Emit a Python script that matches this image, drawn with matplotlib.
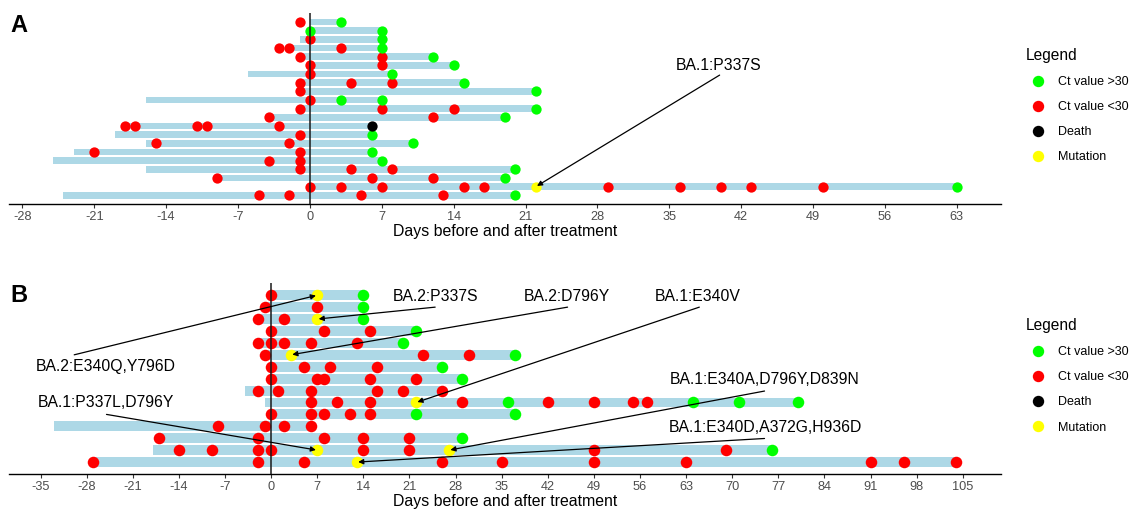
import matplotlib.pyplot as plt
from matplotlib.lines import Line2D

plt.rcParams['font.family'] = ['Liberation Sans', 'DejaVu Sans']
plt.rcParams['axes.unicode_minus'] = False

GREEN = '#00ff00'
RED = '#ff0000'
YELLOW = '#ffff00'
BAR = '#add8e6'

# ---- panel A, one entry per patient row, top to bottom ----
a_bar_start = [0, 0, -1, -2, -1, 0, -6, -1, -1, -16, -1, -4, -18, -19, -16, -23, -25, -16, -9, 0, -24]
a_bar_end = [3, 7, 7, 7, 12, 14, 8, 15, 22, 7, 22, 19, 6, 6, 10, 6, 7, 20, 19, 63, 20]
a_high = [[3], [0, 7], [7], [7], [12], [14], [8], [15], [22], [3, 7], [22], [19], [],
          [6], [10], [6], [7], [20], [19], [63], [20]]
a_low = [[-1], [], [0], [-3, -2, 3], [-1, 7], [0, 7], [0], [-1, 4, 8], [-1], [0],
         [-1, 7, 14], [-4, 12], [-18, -17, -11, -10, -3], [-1], [-15, -2], [-21, -1],
         [-4, -1], [-1, 4, 8], [-9, 6, 12], [0, 3, 7, 15, 17, 29, 36, 40, 43, 50],
         [-5, -2, 5, 13]]
a_death = [(13, 6)]                      # (row, day)
a_mut = [(20, 22)]
a_mut_labels = ['BA.1:P337S']
a_ticks = list(range(-28, 64, 7))

# ---- panel B ----
b_bar_start = [0, -1, -2, 0, -2, -1, 0, 0, -4, -1, 0, -33, -17, -18, -27]
b_bar_end = [14, 14, 14, 22, 20, 37, 26, 29, 26, 80, 37, 6, 29, 76, 104]
b_high = [[14], [14], [14], [22], [20], [37], [26], [29], [], [36, 64, 71, 80],
          [22, 37], [], [29], [76], []]
b_low = [[0], [-1, 7], [-2, 2], [0, 8, 15], [-2, 0, 2, 6, 13], [-1, 23, 30],
         [0, 5, 9, 16], [0, 7, 8, 15, 22], [-2, 1, 6, 16, 20, 26],
         [6, 10, 15, 29, 42, 49, 55, 57], [0, 6, 8, 12, 15], [-8, -1, 2, 6],
         [-17, -2, 8, 14, 21], [-14, -9, -2, 0, 14, 21, 49, 69],
         [-27, -2, 5, 26, 35, 49, 63, 91, 96, 104]]
b_death = []
b_mut = [(1, 7), (3, 7), (6, 3), (10, 22), (14, 7), (14, 27), (15, 13)]
b_mut_labels = ['BA.2:E340Q,Y796D', 'BA.2:P337S', 'BA.2:D796Y', 'BA.1:E340V',
                'BA.1:P337L,D796Y', 'BA.1:E340A,D796Y,D839N', 'BA.1:E340D,A372G,H936D']
b_ticks = list(range(-35, 106, 7))

# label placement: (text x, text y, segment start x, segment start y)
a_label_pos = [(39.8, 15.95, 39.9, 14.87)]
b_label_pos = [(-25.1, 9.0, -29.9, 10.0), (25.0, 14.87, 24.9, 14.0),
               (44.9, 14.87, 45.0, 14.0), (64.8, 14.87, 65.0, 14.0),
               (-25.1, 6.0, -25.0, 5.0), (74.9, 7.89, 74.9, 6.96),
               (75.0, 3.9, 74.9, 2.98)]


def flat(rows, n):
    xs, ys = [], []
    for i, days in enumerate(rows):
        for d in days:
            xs.append(d)
            ys.append(n - i)
    return xs, ys


def panel(ax, start, end, high, low, death, mut, labels, label_pos, ticks,
          xlim, bar_h, ms):
    n = len(start)
    ypos = [n - i for i in range(n)]
    ax.barh(ypos, [e - s for s, e in zip(start, end)], left=start, height=bar_h,
            color=BAR, zorder=1)
    x, y = flat(low, n)
    ax.scatter(x, y, s=ms, color=RED, linewidths=0, zorder=3)
    x, y = flat(high, n)
    ax.scatter(x, y, s=ms, color=GREEN, linewidths=0, zorder=3)
    if death:
        ax.scatter([d for r, d in death], [n + 1 - r for r, d in death], s=ms,
                   color='black', linewidths=0, zorder=3)
    ax.scatter([d for r, d in mut], [n + 1 - r for r, d in mut], s=ms,
               color=YELLOW, linewidths=0, zorder=3)
    ax.axvline(0, color='#1a1a1a', lw=1.1, zorder=4)
    for (r, d), lab, (tx, ty, sx, sy) in zip(mut, labels, label_pos):
        ax.text(tx, ty, lab, ha='center', va='center', fontsize=11.3, zorder=6)
        ax.annotate('', xy=(d, n + 1 - r), xytext=(sx, sy),
                    arrowprops=dict(arrowstyle='-|>,head_length=0.3,head_width=0.15',
                                    color='black', lw=0.9, shrinkA=0, shrinkB=1),
                    zorder=6)
    ax.set_xlim(*xlim)
    ax.set_ylim(0, n + 1)
    ax.set_xticks(ticks)
    ax.set_yticks([])
    for side in ['top', 'right', 'left']:
        ax.spines[side].set_visible(False)
    ax.spines['bottom'].set_linewidth(1.0)
    ax.tick_params(axis='x', length=3, width=0.8, color='#333333', labelsize=9.2,
                   labelcolor='#4d4d4d', pad=2)
    ax.set_xlabel('Days before and after treatment', fontsize=11.4, labelpad=1)

    handles = [Line2D([], [], ls='', marker='o', ms=8.2, mec='none', mfc=c)
               for c in [GREEN, RED, 'black', YELLOW]]
    return handles


W, H = 1133, 511
fig = plt.figure(figsize=(W / 100, H / 100), dpi=100)
axA = fig.add_axes([9 / W, (H - 204) / H, 992 / W, 190.7 / H])
axB = fig.add_axes([9 / W, (H - 474) / H, 992 / W, 190.7 / H])

hA = panel(axA, a_bar_start, a_bar_end, a_high, a_low, a_death, a_mut, a_mut_labels,
           a_label_pos, a_ticks, (-29.3, 67.3), 0.78, 55)
hB = panel(axB, b_bar_start, b_bar_end, b_high, b_low, b_death, b_mut, b_mut_labels,
           b_label_pos, b_ticks, (-39.8, 110.8), 0.83, 69)

legend_labels = ['Ct value >30', 'Ct value <30', 'Death', 'Mutation']
for ax, h, top in [(axA, hA, 41), (axB, hB, 311)]:
    leg = ax.legend(h, legend_labels, loc='upper left', bbox_to_anchor=(1018.7 / W, 1 - top / H),
                    bbox_transform=fig.transFigure, frameon=False, title='Legend',
                    title_fontsize=11.2, fontsize=9, alignment='left', borderpad=0.56,
                    borderaxespad=0, handlelength=1.92, handletextpad=0.69,
                    labelspacing=1.05)

fig.text(10 / W, 1 - 25 / H, 'A', fontsize=17, fontweight='bold', va='center')
fig.text(10 / W, 1 - 295 / H, 'B', fontsize=17, fontweight='bold', va='center')

fig.savefig('out.png', dpi=100)
